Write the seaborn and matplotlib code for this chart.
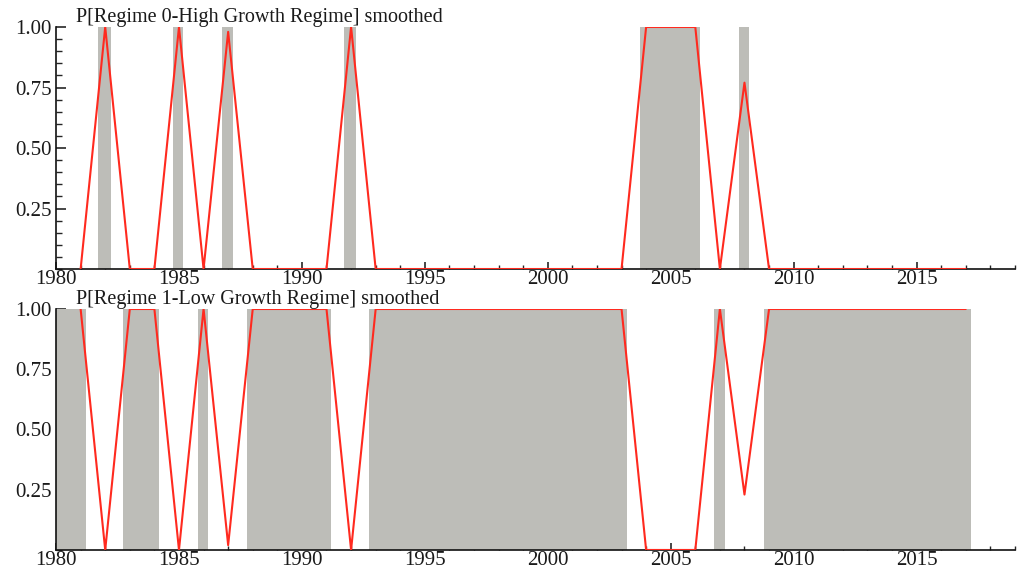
import numpy as np
import pandas as pd
import seaborn as sns
import matplotlib.pyplot as plt
from matplotlib.ticker import MultipleLocator

# annual smoothed regime probabilities
years = list(range(1981, 2018))
p_high = [0, 1, 0, 0, 1, 0, 0.98, 0, 0, 0, 0, 1, 0,
          0, 0, 0, 0, 0, 0, 0, 0, 0, 0,
          1, 1, 1, 0, 0.77, 0,
          0, 0, 0, 0, 0, 0, 0, 0]
p_low = [1, 0, 1, 1, 0, 1, 0.02, 1, 1, 1, 1, 0, 1,
         1, 1, 1, 1, 1, 1, 1, 1, 1, 1,
         0, 0, 0, 1, 0.23, 1,
         1, 1, 1, 1, 1, 1, 1, 1]

# shaded regime periods (start, end)
high_start = [1981.72, 1984.75, 1986.75, 1991.72, 2003.75, 2007.76]
high_end = [1982.24, 1985.17, 1987.2, 1992.22, 2006.2, 2008.2]
low_start = [1980.0, 1982.72, 1985.77, 1987.76, 1992.72, 2006.75, 2008.78]
low_end = [1981.22, 1984.17, 1986.18, 1991.2, 2003.21, 2007.2, 2017.2]

titles = ['P[Regime 0-High Growth Regime] smoothed',
          'P[Regime 1-Low Growth Regime] smoothed']

sns.set_style('ticks')
plt.rcParams['font.family'] = ['Liberation Serif', 'DejaVu Serif']
plt.rcParams['text.color'] = '#1a1a1a'

df = pd.DataFrame({'year': years, 'high': p_high, 'low': p_low})

fig = plt.figure(figsize=(10.19, 5.72), dpi=100)
ax1 = fig.add_axes([0.055, 0.5297, 0.941, 0.4231])
ax2 = fig.add_axes([0.055, 0.0385, 0.941, 0.4213])

panels = [(ax1, 'high', high_start, high_end, titles[0]),
          (ax2, 'low', low_start, low_end, titles[1])]

for ax, col, starts, ends, title in panels:
    for s, e in zip(starts, ends):
        ax.axvspan(s, e, color='#bdbdb8', lw=0, zorder=1)
    sns.lineplot(data=df, x='year', y=col, ax=ax, color='#ff2a1f', lw=1.5, zorder=3)
    ax.set_xlim(1980, 2019)
    ax.set_ylim(0, 1)
    ax.set_xlabel('')
    ax.set_ylabel('')
    ax.set_xticks([1980, 1985, 1990, 1995, 2000, 2005, 2010, 2015])
    ax.xaxis.set_minor_locator(MultipleLocator(1))
    ax.set_yticks([0.25, 0.5, 0.75, 1.0])
    ax.set_yticklabels(['0.25', '0.50', '0.75', '1.00'])
    ax.yaxis.set_minor_locator(MultipleLocator(0.05))
    ax.tick_params(axis='both', which='major', direction='in', length=7, width=1.2,
                   labelsize=15, labelcolor='#1a1a1a', pad=3)
    ax.tick_params(axis='both', which='minor', direction='in', length=4, width=1)
    ax.tick_params(axis='x', which='both', length=5, pad=1)
    ax.tick_params(axis='x', which='minor', length=3)
    for side in ['top', 'right']:
        ax.spines[side].set_visible(False)
    for side in ['left', 'bottom']:
        ax.spines[side].set_linewidth(1.2)
        ax.spines[side].set_color('#111111')
    ax.text(0.021, 1.0, title, transform=ax.transAxes, fontsize=14.5,
            ha='left', va='bottom')

fig.savefig('out.png', dpi=100)
